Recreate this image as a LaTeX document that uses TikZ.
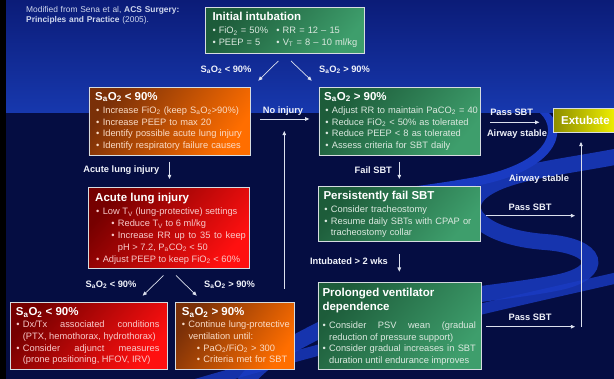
\documentclass[tikz,border=0pt]{standalone}
\usepackage{fontspec}
\setmainfont{Liberation Sans}
\usetikzlibrary{arrows.meta}
\definecolor{bgtop}{HTML}{0B1C78}
\definecolor{bgmid}{HTML}{1738AE}
\definecolor{bgdark}{HTML}{050D42}
\definecolor{swc}{HTML}{1A3BC2}
\definecolor{gA}{HTML}{1D5C3A}
\definecolor{gB}{HTML}{3E9E6C}
\definecolor{oA}{HTML}{7A3008}
\definecolor{oB}{HTML}{FF6E00}
\definecolor{rA}{HTML}{760000}
\definecolor{rB}{HTML}{FF1010}
\definecolor{yA}{HTML}{8E8E00}
\definecolor{yB}{HTML}{F2F200}
\definecolor{boxline}{HTML}{D6DCE0}
\definecolor{gtxt}{HTML}{DCE9E0}
\definecolor{otxt}{HTML}{FBDCC6}
\definecolor{rtxt}{HTML}{F8CACA}
\definecolor{lblc}{HTML}{F0F2FA}
\definecolor{arrc}{HTML}{DCE0EE}
\definecolor{citec}{HTML}{D0D8EE}
\newcommand{\ttl}{\fontsize{11.5}{13.3}\selectfont\bfseries}
\newcommand{\bdy}{\fontsize{9.3}{11.8}\selectfont}
\newcommand{\lblf}{\fontsize{9.3}{11}\selectfont\bfseries}
\newcommand{\sbs}[1]{\textsubscript{#1}}
\newcommand{\itm}[2][7.6pt]{\par\leftskip=#1\relax\noindent\llap{•\hspace{3.3pt}}#2}
\newcommand{\ttlb}[2]{{\noindent\ttl\color{white}#1\par}\vspace{#2}}
\newcommand{\bul}{•\hspace{3pt}}
\hbadness=10000
\hfuzz=3pt
\begin{document}
\begin{tikzpicture}[x=1pt,y=-1pt,
  box/.style={draw=boxline,line width=0.8pt,inner sep=0pt,anchor=north west},
  gbox/.style={box,top color=gA,bottom color=gB,shading angle=50},
  obox/.style={box,top color=oA,bottom color=oB,shading angle=55},
  rbox/.style={box,top color=rA,bottom color=rB,shading angle=50},
  ybox/.style={box,left color=yA,right color=yB},
  txt/.style={inner sep=0pt,anchor=base west,align=left,font=\bdy},
  lbl/.style={inner sep=0pt,text=lblc,font=\lblf,text height=6.8pt,text depth=0pt},
  arr/.style={draw=arrc,line width=0.7pt,-{Triangle[length=4.2pt,width=3.6pt]}}
]
\useasboundingbox (0,0) rectangle (614,379);
% background
\fill[bgdark] (0,0) rectangle (614,379);
\shade[top color=bgtop,bottom color=bgmid] (0,0) rectangle (614,113);
\fill[swc] (540,113) .. controls (560,132) and (545,165) .. (470,178) .. controls (430,185) and (400,188) .. (385,190) -- (385,198) .. controls (410,196) and (440,192) .. (475,186) .. controls (556,171) and (569,132) .. (549,113) -- cycle;
\draw[swc,line width=16pt,opacity=0.85] (625,155) .. controls (560,168) and (500,172) .. (478,195) .. controls (460,215) and (490,238) .. (545,242) .. controls (600,246) and (605,272) .. (560,282) .. controls (500,295) and (380,300) .. (320,330) .. controls (280,350) and (255,365) .. (240,390);
\draw[swc,line width=11pt,opacity=0.8] (625,276) .. controls (520,300) and (380,330) .. (170,392);
\fill[black] (0,0) rectangle (6,379);
% boxes
\node[gbox,minimum width=159pt,minimum height=46pt] (init) at (205,7) {};
\node[obox,minimum width=161pt,minimum height=68pt] (o1) at (88.5,87) {};
\node[gbox,minimum width=161.5pt,minimum height=68.5pt] (g1) at (318.5,87) {};
\node[gbox,minimum width=162pt,minimum height=55pt] (pers) at (318,186.5) {};
\node[gbox,minimum width=163pt,minimum height=87pt] (prol) at (317.5,282) {};
\node[rbox,minimum width=161pt,minimum height=80.5pt] (ali) at (88,187.5) {};
\node[rbox,minimum width=157pt,minimum height=67pt] (r2) at (10,302) {};
\node[obox,minimum width=119pt,minimum height=67pt] (o2) at (175,302) {};
\node[ybox,minimum width=64pt,minimum height=23.5pt,font=\ttl,text=white] (ext) at (553,108.2) {Extubate\hspace{3pt}};
% box texts
\node[txt,text width=150pt,font=\fontsize{9.3}{11.6}\selectfont,text=gtxt] (initt) at (212.3,20.1) {\ttlb{Initial intubation}{2.3pt}\noindent\makebox[64pt][l]{\bul FiO\sbs{2} = 50\%}\bul RR = 12 – 15\par\noindent\makebox[64pt][l]{\bul PEEP = 5}\bul V\sbs{T} = 8 – 10 ml/kg\par};
\node[txt,text width=152pt,text=otxt] (o1t) at (95,100.1) {\ttlb{S\sbs{a}O\sbs{2} < 90\%}{1.4pt}\itm{Increase FiO\sbs{2} (keep S\sbs{a}O\sbs{2}>90\%)}\itm{Increase PEEP to max 20}\itm{Identify possible acute lung injury}\itm{Identify respiratory failure causes}\par};
\node[txt,text width=154pt,text=gtxt] (g1t) at (324,100.1) {\ttlb{S\sbs{a}O\sbs{2} > 90\%}{1.4pt}\itm[7.7pt]{Adjust RR to maintain PaCO\sbs{2} = 40}\itm[7.7pt]{Reduce FiO\sbs{2} < 50\% as tolerated}\itm[7.7pt]{Reduce PEEP < 8 as tolerated}\itm[7.7pt]{Assess criteria for SBT daily}\par};
\node[txt,text width=154pt,text=gtxt] (perst) at (323.3,199.8) {\ttlb{Persistently fail SBT}{0.7pt}\itm[7.4pt]{Consider tracheostomy}\itm[7.4pt]{Resume daily SBTs with CPAP or\newline tracheostomy collar}\par};
\node[txt,align=justify,text width=153.4pt,text=gtxt] (prolt) at (322.3,296.8) {\ttlb{Prolonged ventilator\newline dependence}{6.4pt}\itm[6.7pt]{Consider PSV wean (gradual\linebreak reduction of pressure support)}\itm[6.7pt]{Consider gradual increases in SBT\linebreak duration until endurance improves}\par};
\node[txt,align=justify,text width=150.7pt,text=rtxt] (alit) at (95,201.4) {\ttlb{Acute lung injury}{1.8pt}\itm{Low T\sbs{V} (lung-protective) settings}\itm[22.7pt]{Reduce T\sbs{V} to 6 ml/kg}\itm[22.7pt]{Increase RR up to 35 to keep\linebreak pH > 7.2, P\sbs{a}CO\sbs{2} < 50}\itm{Adjust PEEP to keep FiO\sbs{2} < 60\%}\par};
\node[txt,align=justify,text width=143.6pt,text=rtxt] (r2t) at (15.7,315.8) {\ttlb{S\sbs{a}O\sbs{2} < 90\%}{0pt}\itm[7pt]{Dx/Tx associated conditions\linebreak (PTX, hemothorax, hydrothorax)}\itm[7pt]{Consider adjunct measures\linebreak (prone positioning, HFOV, IRV)}\par};
\node[txt,text width=111pt,text=otxt] (o2t) at (181.7,315.8) {\ttlb{S\sbs{a}O\sbs{2} > 90\%}{0pt}\itm[6.6pt]{Continue lung-protective\newline ventilation until:}\itm[21.6pt]{PaO\sbs{2}/FiO\sbs{2} > 300}\itm[21.6pt]{Criteria met for SBT}\par};
% citation
\node[inner sep=0pt,anchor=base west,align=left,text width=200pt,text=citec,font=\fontsize{8.4}{10}\selectfont] (cite) at (26,13) {Modified from Sena et al, \textbf{ACS Surgery:}\newline\textbf{Principles and Practice} (2005).\par};
% connector end points
\coordinate (a1s) at (278.3,61);   \coordinate (a1e) at (258.3,80.7);
\coordinate (a2s) at (291,61);     \coordinate (a2e) at (311.7,80.7);
\coordinate (a3s) at (169.5,161.7);\coordinate (a3e) at (169.5,179);
\coordinate (a4s) at (260,119);    \coordinate (a4e) at (309.3,119);
\coordinate (a5s) at (284.3,289);  \coordinate (a5e) at (284.3,131);
\coordinate (a6s) at (490,122.3);  \coordinate (a6e) at (539.3,122.3);
\coordinate (a7s) at (399.3,161.7);\coordinate (a7e) at (399.3,179);
\coordinate (a8s) at (486,215.7);  \coordinate (a8e) at (575,215.7);
\coordinate (a9s) at (399.3,254);  \coordinate (a9e) at (399.3,271.7);
\coordinate (a10s) at (486,326.7); \coordinate (a10e) at (575,326.7);
\coordinate (a11s) at (581,327);   \coordinate (a11e) at (581,142);
\coordinate (a12s) at (163.5,275.5);\coordinate (a12e) at (142.7,295.7);
\coordinate (a13s) at (176,275.5); \coordinate (a13e) at (196.7,295.7);
\foreach \i in {1,...,13} {\draw[arr] (a\i s) -- (a\i e);}
% labels
\node[lbl] (l1) at (226,69) {S\sbs{a}O\sbs{2} < 90\%};
\node[lbl] (l2) at (344.5,69) {S\sbs{a}O\sbs{2} > 90\%};
\node[lbl] (l3) at (121.3,169.3) {Acute lung injury};
\node[lbl] (l4) at (283,110) {No injury};
\node[lbl] (l5) at (511.7,111.7) {Pass SBT};
\node[lbl] (l6) at (517,132.7) {Airway stable};
\node[lbl] (l7) at (373.3,170) {Fail SBT};
\node[lbl] (l8) at (539,177.7) {Airway stable};
\node[lbl] (l9) at (530,206.7) {Pass SBT};
\node[lbl] (l10) at (349,261) {Intubated > 2 wks};
\node[lbl] (l11) at (530,316.7) {Pass SBT};
\node[lbl] (l12) at (111,284) {S\sbs{a}O\sbs{2} < 90\%};
\node[lbl] (l13) at (229.5,284) {S\sbs{a}O\sbs{2} > 90\%};
\end{tikzpicture}
\end{document}
